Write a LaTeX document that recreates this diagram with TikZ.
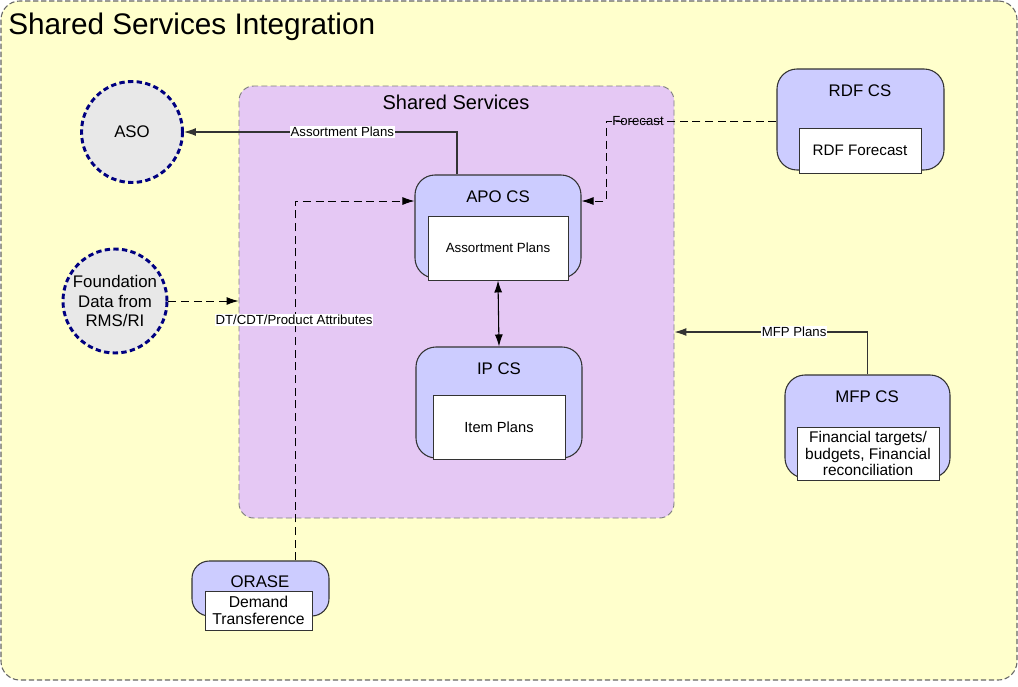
\documentclass[tikz,border=0pt]{standalone}
\usepackage{fontspec}
\setmainfont{Liberation Sans}
\usetikzlibrary{arrows.meta}
\definecolor{bgyellow}{HTML}{FFFFCC}
\definecolor{sslav}{HTML}{E5C8F4}
\definecolor{boxblue}{HTML}{CCCCFF}
\definecolor{circgray}{HTML}{E8E8E8}
\definecolor{navyb}{HTML}{000080}
\definecolor{edgegray}{HTML}{333333}
\tikzset{
  px/.style={x=0.75pt,y=-0.75pt},
  csbox/.style={draw=edgegray,line width=0.8pt,fill=boxblue,rounded corners=15pt,inner sep=0pt},
  inbox/.style={draw=edgegray,line width=0.7pt,fill=white,inner sep=0pt,align=center,font=\fontsize{11.2pt}{13pt}\selectfont},
  cstitle/.style={font=\fontsize{12.6pt}{14pt}\selectfont,inner sep=0pt},
  extcirc/.style={circle,draw=navyb,fill=circgray,line width=2.2pt,dash pattern=on 4pt off 2.5pt,inner sep=0pt,align=center,font=\fontsize{12.6pt}{14.6pt}\selectfont},
  arr/.style={draw=edgegray,line width=0.8pt,-{Latex[length=9pt,width=6pt]}},
  darr/.style={draw=black,line width=0.8pt,{Latex[length=9pt,width=6pt]}-{Latex[length=9pt,width=6pt]}},
  dasharr/.style={arr,draw=black,line width=0.7pt,dash pattern=on 6pt off 3.5pt},
  lbl/.style={fill=white,inner sep=0.6pt,font=\fontsize{9.9pt}{11pt}\selectfont},
  lblclear/.style={inner sep=0.6pt,font=\fontsize{9.9pt}{11pt}\selectfont},
}
\begin{document}
\begin{tikzpicture}[px]
\useasboundingbox (0,0) rectangle (1018,686);
% outer frame
\node[draw=gray!80!black,fill=bgyellow,dash pattern=on 4pt off 2pt,line width=0.8pt,rounded corners=14pt,minimum width=1016*0.75pt,minimum height=679*0.75pt,inner sep=0pt] (frame) at (509,340.5) {};
\node[anchor=base west,inner sep=0pt,font=\fontsize{22.3pt}{24pt}\selectfont] (title) at (8,34) {Shared Services Integration};
% shared services container
\node[draw=gray,fill=sslav,dash pattern=on 4.5pt off 2.5pt,line width=0.7pt,rounded corners=11pt,minimum width=435*0.75pt,minimum height=432*0.75pt,inner sep=0pt] (ss) at (456.5,302) {};
\node[anchor=base,inner sep=0pt,font=\fontsize{15pt}{17pt}\selectfont] (sstitle) at (456,109) {Shared Services};
% APO CS
\node[csbox,minimum width=166*0.75pt,minimum height=103*0.75pt] (apo) at (498,226.5) {};
\node[cstitle] (apot) at (498,197) {APO CS};
\node[inbox,minimum width=140*0.75pt,minimum height=64*0.75pt,font=\fontsize{10pt}{11pt}\selectfont] (apoin) at (498,248) {Assortment Plans};
% IP CS
\node[csbox,minimum width=166*0.75pt,minimum height=111*0.75pt] (ip) at (499,402.5) {};
\node[cstitle] (ipt) at (499,369) {IP CS};
\node[inbox,minimum width=132*0.75pt,minimum height=64*0.75pt,font=\fontsize{11pt}{13pt}\selectfont] (ipin) at (499,427) {Item Plans};
% RDF CS
\node[csbox,minimum width=167*0.75pt,minimum height=101*0.75pt] (rdf) at (860.5,119.5) {};
\node[cstitle] (rdft) at (860,91) {RDF CS};
\node[inbox,minimum width=122*0.75pt,minimum height=45*0.75pt,font=\fontsize{11.4pt}{13pt}\selectfont] (rdfin) at (860,150.5) {RDF Forecast};
% MFP CS
\node[csbox,minimum width=165*0.75pt,minimum height=103*0.75pt] (mfp) at (867.5,426.5) {};
\node[cstitle] (mfpt) at (867,397) {MFP CS};
\node[inbox,minimum width=142*0.75pt,minimum height=53*0.75pt,font=\fontsize{11.6pt}{12.6pt}\selectfont] (mfpin) at (868,453.5) {Financial targets/\\budgets, Financial\\reconciliation};
% ORASE
\node[csbox,rounded corners=13pt,minimum width=137*0.75pt,minimum height=55*0.75pt] (orase) at (260.5,588.5) {};
\node[cstitle] (oraset) at (260,582) {ORASE};
\node[inbox,minimum width=107*0.75pt,minimum height=39*0.75pt,font=\fontsize{11.8pt}{13.2pt}\selectfont] (orasein) at (258.5,610.5) {Demand\\Transference};
% external circles
\node[extcirc,minimum size=101*0.75pt] (aso) at (132,132) {ASO};
\node[extcirc,minimum size=104*0.75pt] (fnd) at (115,301) {Foundation\\Data from\\RMS/RI};
% helper coordinates
\coordinate (aplx) at (457,0);
\coordinate (arrY) at (0,201);
\coordinate (fc) at (606,121);
\coordinate (ox) at (295,0);
\coordinate (my) at (0,332);
% connectors
\draw[arr] (apo.north -| aplx) |- (aso.east) node[lbl,pos=0.71] (lap) {Assortment Plans};
\draw[dasharr] (rdf.west |- fc) -- (fc) |- (apo.east |- arrY);
\node[lblclear] (lfc) at (638,121) {Forecast};
\draw[dasharr] (orase.north -| ox) |- (apo.west |- arrY);
\draw[dasharr] (fnd.east) -- (ss.west |- fnd.east);
\node[lbl] (ldt) at (294,320) {DT/CDT/Product Attributes};
\draw[arr] (mfp.north) |- (ss.east |- my) node[lbl,pos=0.69] (lmfp) {MFP Plans};
\draw[darr] (apoin.south) -- (ip.north);
\end{tikzpicture}
\end{document}
